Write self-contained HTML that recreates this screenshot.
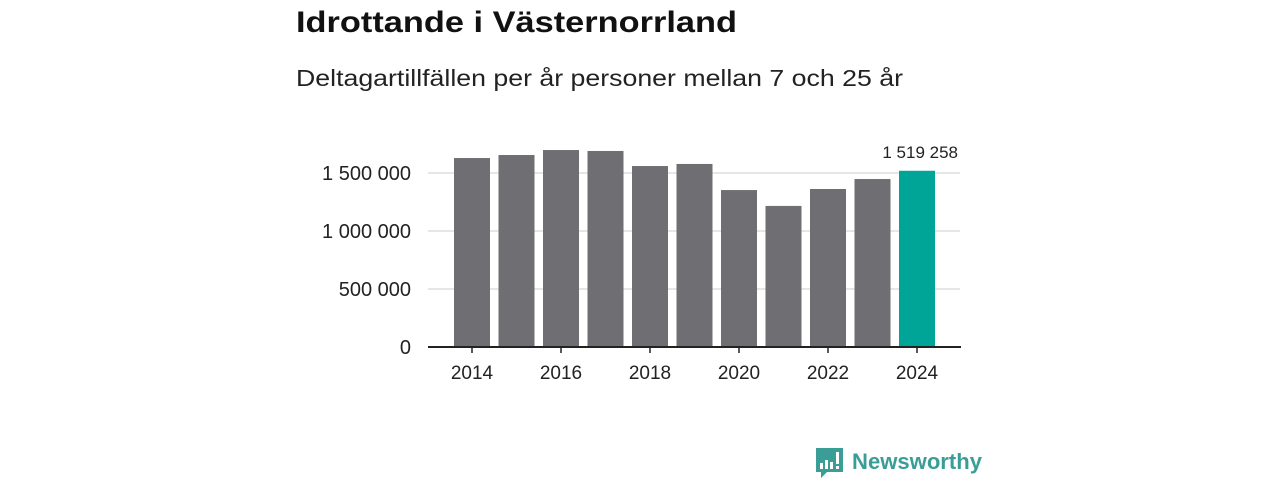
<!DOCTYPE html>
<html><head><meta charset="utf-8"><style>
html,body{margin:0;padding:0;background:#fff;width:1280px;height:480px;overflow:hidden}
svg{display:block;font-family:"Liberation Sans",sans-serif}
</style></head><body>
<svg id="chart" width="1280" height="480" viewBox="0 0 1280 480">
<text x="296" y="32" font-size="30" font-weight="bold" fill="#111" textLength="441" lengthAdjust="spacingAndGlyphs">Idrottande i Västernorrland</text>
<text x="296" y="86" font-size="23" fill="#222" textLength="607" lengthAdjust="spacingAndGlyphs">Deltagartillfällen per år personer mellan 7 och 25 år</text>
<g id="grid"></g><g id="bars"></g><g id="axes"></g>
<g>
<path d="M816,448 h27 v24 h-16 l-6,6 v-6 h-5 z" fill="#3a9e97"/>
<rect x="820" y="463" width="3" height="6" fill="#fff"/><rect x="825" y="460" width="3" height="9" fill="#fff"/><rect x="830" y="462" width="3" height="7" fill="#fff"/><rect x="836" y="452" width="3" height="12" fill="#fff"/><rect x="836" y="466" width="3" height="3" fill="#fff"/>
<text x="852" y="469" font-size="22" font-weight="bold" fill="#3a9e97" textLength="130" lengthAdjust="spacingAndGlyphs">Newsworthy</text>
</g>
</svg>
<script>
const years = [2014,2015,2016,2017,2018,2019,2020,2021,2022,2023,2024];
const values = [1629000,1655000,1698000,1690000,1560000,1578000,1353000,1216000,1362000,1448000,1519258];
const yTicks = [0,500000,1000000,1500000];
const yTickLabels = ["0","500 000","1 000 000","1 500 000"];
const xTickYears = [2014,2016,2018,2020,2022,2024];
const NS="http://www.w3.org/2000/svg";
const y0=347, pxPerUnit=116/1000000;
const yS=v=>y0-v*pxPerUnit;
const x0=472, step=44.5, bw=36;
const xS=yr=>x0+(yr-years[0])*step;
function mk(tag,attrs,parent){const e=document.createElementNS(NS,tag);for(const k in attrs)e.setAttribute(k,attrs[k]);parent.appendChild(e);return e;}
const grid=document.getElementById('grid'),bars=document.getElementById('bars'),axes=document.getElementById('axes');
yTicks.forEach((t,i)=>{
  if(t>0){const l=mk('line',{x1:428,x2:960,y1:yS(t),y2:yS(t),stroke:'#ddd','stroke-width':1.5},grid);
  
  }
  const tx=mk('text',{x:411,y:yS(t)+7,'font-size':20,fill:'#222','text-anchor':'end'},axes);
  tx.textContent=yTickLabels[i];
  
  
});
years.forEach((yr,i)=>{
  const last=i===years.length-1;
  const r=mk('rect',{x:xS(yr)-bw/2,y:yS(values[i]),width:bw,height:y0-yS(values[i]),fill:last?'#00a597':'#6f6e73'},bars);
  
  
  if(last){const lb=mk('text',{x:xS(yr)+41,y:yS(values[i])-13,'font-size':17,fill:'#222','text-anchor':'end'},bars);
  lb.textContent=values[i].toString().replace(/\B(?=(\d{3})+(?!\d))/g,' ');
  
  }
});
const ax=mk('line',{x1:428,x2:961,y1:y0,y2:y0,stroke:'#222','stroke-width':2},axes);


xTickYears.forEach(yr=>{
  const tk=mk('line',{x1:xS(yr),x2:xS(yr),y1:y0,y2:y0+6,stroke:'#222','stroke-width':1.5},axes);
  
  
  const t=mk('text',{x:xS(yr),y:y0+32,'font-size':19,fill:'#222','text-anchor':'middle'},axes);
  t.textContent=yr;
  
  
});
</script>
</body></html>
